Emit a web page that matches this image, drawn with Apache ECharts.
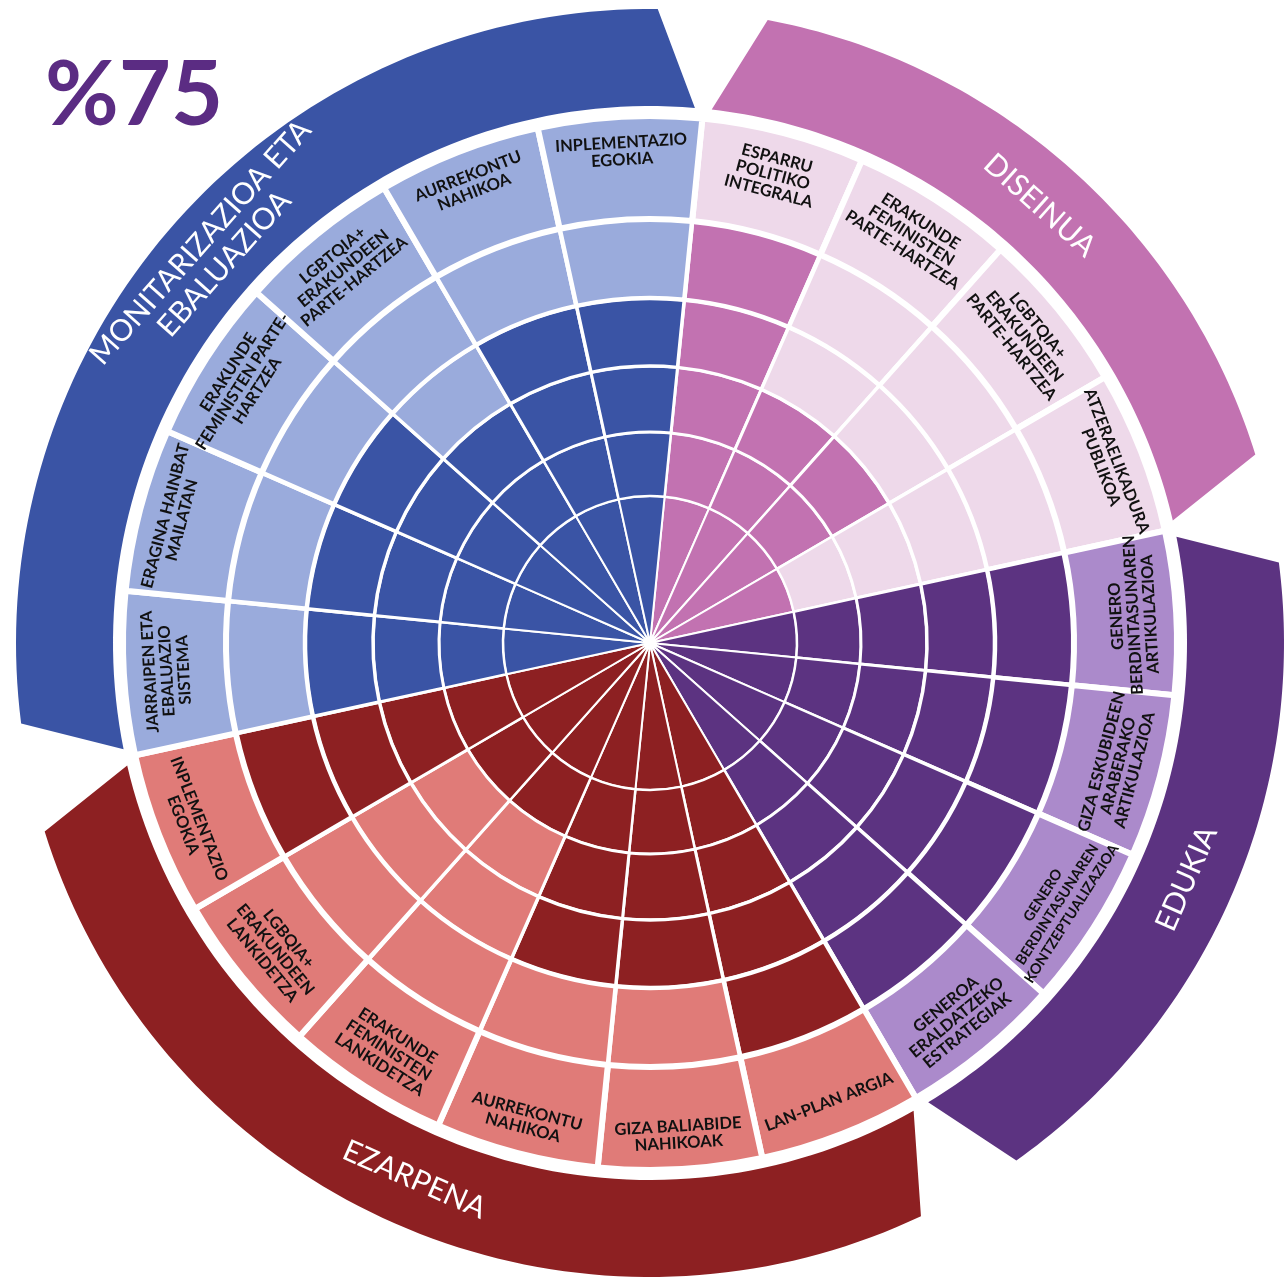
<!DOCTYPE html>
<html>
<head>
<meta charset="utf-8">
<script src="https://cdn.jsdelivr.net/npm/echarts@6/dist/echarts.min.js"></script>
<style>
  html, body { margin: 0; background: #fff; }
  #chart { width: 1285px; height: 1282px; }
</style>
</head>
<body>
<div id="chart"></div>
<script>
// irizpideak, goian hasita eta erlojuaren noranzkoan
const criteria = [
  'ESPARRU\nPOLITIKO\nINTEGRALA',
  'ERAKUNDE\nFEMINISTEN\nPARTE-HARTZEA',
  'LGBTQIA+\nERAKUNDEEN\nPARTE-HARTZEA',
  'ATZERAELIKADURA\nPUBLIKOA',
  'GENERO\nBERDINTASUNAREN\nARTIKULAZIOA',
  'GIZA ESKUBIDEEN\nARABERAKO\nARTIKULAZIOA',
  'GENERO\nBERDINTASUNAREN\nKONTZEPTUALIZAZIOA',
  'GENEROA\nERALDATZEKO\nESTRATEGIAK',
  'LAN-PLAN ARGIA',
  'GIZA BALIABIDE\nNAHIKOAK',
  'AURREKONTU\nNAHIKOA',
  'ERAKUNDE\nFEMINISTEN\nLANKIDETZA',
  'LGBQIA+\nERAKUNDEEN\nLANKIDETZA',
  'INPLEMENTAZIO\nEGOKIA',
  'JARRAIPEN ETA\nEBALUAZIO\nSISTEMA',
  'ERAGINA HAINBAT\nMAILATAN',
  'ERAKUNDE\nFEMINISTEN PARTE-\nHARTZEA',
  'LGBTQIA+\nERAKUNDEEN\nPARTE-HARTZEA',
  'AURREKONTU\nNAHIKOA',
  'INPLEMENTAZIO\nEGOKIA'
];
// irizpide bakoitzaren multzoa
const groupOf = [0, 0, 0, 0, 1, 1, 1, 1, 2, 2, 2, 2, 2, 2, 3, 3, 3, 3, 3, 3];
const groupNames = ['DISEINUA', 'EDUKIA', 'EZARPENA', 'MONITARIZAZIOA ETA\nEBALUAZIOA'];
// betetako eraztunak (0-5) irizpide bakoitzean
const scores = [5, 3, 3, 1, 5, 5, 5, 5, 5, 4, 4, 2, 2, 5, 4, 4, 4, 3, 4, 4];
const headline = '%75';

// koloreak multzoka: iluna / argia
const palette = [
  { dark: '#c272b1', light: '#eed9ea', label: '#eed9ea' },
  { dark: '#5c3381', light: '#ab8acb', label: '#ab8acb' },
  { dark: '#8d2022', light: '#e07b78', label: '#e07b78' },
  { dark: '#3a54a5', light: '#9aabdc', label: '#9aabdc' }
];

const START = 5.7;   // lehen ebakiaren angelua (iparraldetik, erlojuaren noranzkoan)
const STEP = 360 / criteria.length;
const RINGS = 5;

// irizpide bakoitzeko katea: 5 eraztun + etiketa
function chain(i) {
  const p = palette[groupOf[i]];
  const b = START + STEP * i + STEP / 2;
  const rot = ((b + 95) % 180) - 95;            // testuaren biraketa (erlojuaren noranzkoan)
  const outward = Math.abs((((rot - b) % 360) + 360) % 360) < 1;
  // testua pixka bat kanporantz mugitzeko lerro hutsak
  const lines = criteria[i].split('\n').length;
  const pad = lines < 3 ? '\n \n ' : '\n ';
  const fmt = outward ? '{b}' + pad : pad.slice(1) + '\n{b}';
  let node = {
    name: criteria[i],
    value: 1,
    itemStyle: { color: p.label },
    label: {
      show: true,
      rotate: -rot,
      formatter: fmt,
      fontSize: i === 6 ? 14.5 : 16.5
    }
  };
  for (let k = RINGS; k >= 1; k--) {
    node = {
      name: '',
      value: 1,
      itemStyle: { color: k <= scores[i] ? p.dark : p.light },
      children: [node]
    };
  }
  return node;
}

const sunData = criteria.map((c, i) => chain(i));
const bandData = groupNames.map((n, g) => [groupOf.indexOf(g), groupOf.filter(x => x === g).length]);

const myChart = echarts.init(document.getElementById('chart'));

myChart.setOption({
  animation: false,
  backgroundColor: '#fff',
  title: {
    text: headline,
    left: 40,
    top: 46,
    textStyle: { fontFamily: 'Lato', fontWeight: 'bold', fontSize: 90, color: '#5b2c83' }
  },
  polar: { center: [650, 643], radius: 640 },
  angleAxis: { type: 'value', min: 0, max: 360, startAngle: 90, clockwise: true, show: false },
  radiusAxis: { type: 'value', min: 0, max: 640, show: false },
  series: [
    {
      type: 'sunburst',
      center: [650, 643],
      radius: [0, 527],
      startAngle: 90 - START,
      sort: null,
      nodeClick: false,
      silent: true,
      emphasis: { disabled: true },
      data: sunData,
      itemStyle: { borderColor: '#fff' },
      label: {
        fontFamily: 'Lato',
        fontWeight: 'bold',
        color: '#111',
        lineHeight: 17
      },
      levels: [
        {},
        { r0: 0, r: 147, itemStyle: { borderWidth: 2 }, label: { show: false } },
        { r0: 147, r: 211, itemStyle: { borderWidth: 2.5 }, label: { show: false } },
        { r0: 211, r: 277, itemStyle: { borderWidth: 3 }, label: { show: false } },
        { r0: 277, r: 345, itemStyle: { borderWidth: 3.5 }, label: { show: false } },
        { r0: 345, r: 424, itemStyle: { borderWidth: 4.5 }, label: { show: false } },
        { r0: 424, r: 527, itemStyle: { borderWidth: 6 } }
      ]
    },
    {
      // multzoen kanpoko bandak
      type: 'custom',
      coordinateSystem: 'polar',
      silent: true,
      data: bandData,
      renderItem: function (params, api) {
        const g = params.dataIndex;
        const a0 = START + STEP * api.value(0);
        const a1 = a0 + STEP * api.value(1);
        const oS = a0 + 5, oE = a1 - 5, iS = a0 + 0.9, iE = a1 - 0.9;
        const pts = [];
        for (let t = 0; t <= 80; t++) pts.push(api.coord([634, (oS + (oE - oS) * t / 80) % 360]));
        for (let t = 80; t >= 0; t--) pts.push(api.coord([537, (iS + (iE - iS) * t / 80) % 360]));
        const mid = (a0 + a1) / 2;
        const c = api.coord([586, mid % 360]);
        const rot = ((mid + 90) % 180) - 90;
        return {
          type: 'group',
          children: [
            { type: 'polygon', shape: { points: pts }, style: { fill: palette[g].dark } },
            {
              type: 'text',
              x: c[0],
              y: c[1],
              rotation: -rot * Math.PI / 180,
              style: {
                text: groupNames[g],
                fill: '#fff',
                fontFamily: 'Lato',
                fontSize: 30,
                lineHeight: 32,
                align: 'center',
                verticalAlign: 'middle'
              }
            }
          ]
        };
      }
    }
  ]
});
</script>
</body>
</html>
